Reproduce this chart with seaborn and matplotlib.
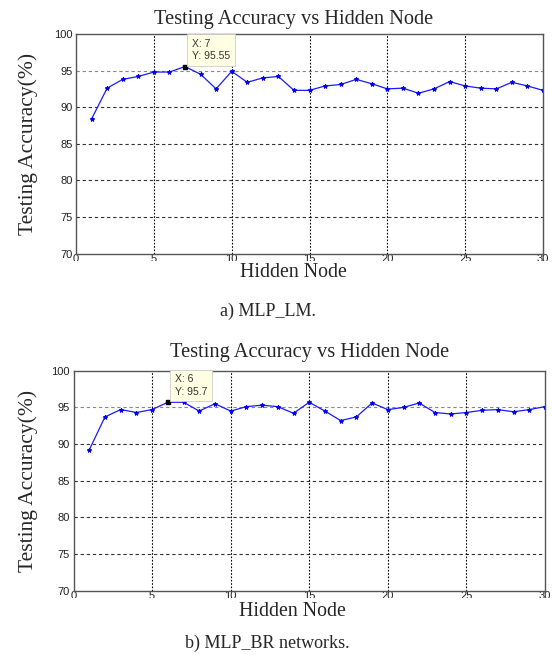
import matplotlib
matplotlib.use("Agg")
import matplotlib.pyplot as plt
from matplotlib.transforms import Bbox
import pandas as pd
import seaborn as sns

hidden_nodes = list(range(1, 31))

acc_lm = [88.4, 92.6, 93.8, 94.2, 94.8, 94.8, 95.55, 94.5, 92.5, 94.9,
          93.4, 94.0, 94.2, 92.3, 92.3, 92.9, 93.1, 93.8, 93.2, 92.5,
          92.6, 91.9, 92.5, 93.5, 92.9, 92.6, 92.5, 93.4, 92.9, 92.3]

acc_br = [89.2, 93.7, 94.7, 94.3, 94.7, 95.7, 95.7, 94.5, 95.5, 94.5,
          95.1, 95.3, 95.1, 94.2, 95.7, 94.5, 93.2, 93.7, 95.6, 94.7,
          95.0, 95.6, 94.3, 94.1, 94.3, 94.6, 94.7, 94.4, 94.7, 95.1]

# datatip positions (x, y label text)
tip_lm = (7, "95.55")
tip_br = (6, "95.7")

captions = ["a) MLP_LM.", "b) MLP_BR networks."]

sns.set_style("white")
plt.rcParams["font.family"] = ["Liberation Serif", "DejaVu Serif"]

W, H = 552, 660
fig = plt.figure(figsize=(W / 100, H / 100), dpi=100)

# axes boxes in figure fraction
boxes = [
    [0.1377, 0.6158, 0.846, 0.3327],
    [0.1332, 0.1050, 0.854, 0.3333],
]
title_x = [0.465, 0.5]
title_pad = [7, 10]
ylabel_x = [-0.082, -0.076]
xlabel_y = [-0.086, -0.094]

series = [(acc_lm, tip_lm), (acc_br, tip_br)]

for i, (acc, tip) in enumerate(series):
    ax = fig.add_axes(boxes[i])
    df = pd.DataFrame({"Hidden Node": hidden_nodes, "Accuracy": acc})
    sns.lineplot(
        x="Hidden Node",
        y="Accuracy",
        data=df,
        ax=ax,
        color="#1a1aff",
        linewidth=0.9,
        marker="*",
        markersize=3.2,
        markeredgecolor="#0000ee",
        markerfacecolor="#0000ee",
    )
    ax.set_xlim(0, 30)
    ax.set_ylim(70, 100)
    ax.set_xticks([0, 5, 10, 15, 20, 25, 30])
    ax.set_yticks([70, 75, 80, 85, 90, 95, 100])

    # grid lines
    for yv in [75, 80, 85, 90, 95]:
        ax.axhline(yv, color="#333333" if yv != 95 else "#888888",
                   linestyle=(0, (3, 2.5)), linewidth=0.8, zorder=0)
    for xv in [5, 10, 15, 20, 25]:
        ax.axvline(xv, color="black", linestyle=(0, (1.5, 1.5)),
                   linewidth=0.8, zorder=0)

    for sp in ax.spines.values():
        sp.set_color("#555555")
        sp.set_linewidth(1.0)

    ax.tick_params(axis="both", length=0, labelsize=8, colors="#222222")
    ax.tick_params(axis="x", pad=0.5)
    ax.tick_params(axis="y", pad=2.5)
    for lab in ax.get_xticklabels() + ax.get_yticklabels():
        lab.set_family(["Liberation Sans", "DejaVu Sans"])

    # the x tick labels are half cut off in the original figure
    axis_px = H * boxes[i][1]
    clip = Bbox.from_extents(0, axis_px - 7.5, W, H)
    for lab in ax.get_xticklabels():
        lab.set_clip_box(clip)
        lab.set_clip_on(True)

    ax.set_title("Testing Accuracy vs Hidden Node", fontsize=14.7,
                 pad=title_pad[i], x=title_x[i])
    ax.set_xlabel("Hidden Node", fontsize=14.3)
    ax.xaxis.label.set_va("center")
    ax.xaxis.set_label_coords(0.465, xlabel_y[i])
    ax.set_ylabel("Testing Accuracy(%)", fontsize=15.5)
    ax.yaxis.set_label_coords(ylabel_x[i], 0.5)

    # datatip
    tx = tip[0]
    ty = acc[hidden_nodes.index(tx)]
    ax.plot([tx], [ty], marker="s", color="black", markersize=3.2, zorder=5)
    ax.annotate(
        f"X: {tx}\nY: {tip[1]}",
        xy=(tx, ty),
        xytext=(5, 4),
        textcoords="offset points",
        fontsize=7.5,
        family=["Liberation Sans", "DejaVu Sans"],
        color="#333333",
        va="bottom",
        ha="left",
        linespacing=1.3,
        bbox=dict(boxstyle="square,pad=0.45", fc="#ffffe4", ec="#cccccc", lw=0.6),
        zorder=6,
    )

fig.text(0.485, 1 - 311 / H, captions[0], ha="center", va="center", fontsize=13)
fig.text(0.485, 1 - 643 / H, captions[1], ha="center", va="center", fontsize=13)

fig.savefig("out.png", dpi=100)
